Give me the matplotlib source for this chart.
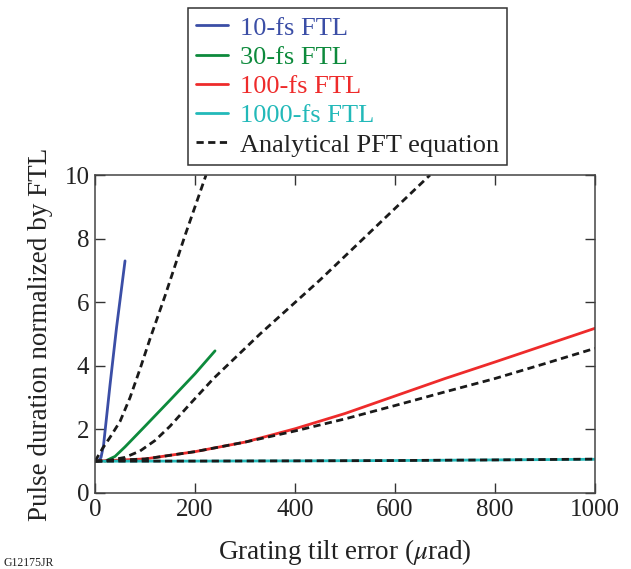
import matplotlib
matplotlib.use("Agg")
import matplotlib.pyplot as plt

plt.rcParams['font.family'] = ['Liberation Serif', 'DejaVu Serif']
plt.rcParams['mathtext.fontset'] = 'stix'

# pulse duration / FTL vs grating tilt error (urad)
x_10 = [7, 12, 17, 30, 43, 60]
y_10 = [1.0, 1.12, 1.5, 3.4, 5.2, 7.3]

x_30 = [20, 40, 60, 100, 150, 200, 240]
y_30 = [1.0, 1.15, 1.45, 2.1, 2.92, 3.75, 4.47]

x_100 = [0, 100, 200, 300, 400, 500, 600, 700, 800, 900, 1000]
y_100 = [1.0, 1.07, 1.3, 1.6, 2.02, 2.5, 3.05, 3.6, 4.12, 4.65, 5.18]

x_1000 = [0, 200, 400, 600, 800, 1000]
y_1000 = [1.0, 1.003, 1.01, 1.02, 1.04, 1.06]

# analytical PFT curves
xa_10 = [0, 15, 30, 50, 70, 90, 110, 140, 180, 222]
ya_10 = [1.0, 1.4, 1.75, 2.25, 3.0, 3.9, 4.85, 6.2, 8.1, 10.0]

xa_30 = [0, 30, 60, 90, 120, 150, 190, 237, 330, 450, 560, 670]
ya_30 = [1.0, 1.03, 1.12, 1.32, 1.65, 2.1, 2.8, 3.6, 5.0, 6.7, 8.35, 10.0]

xa_100 = [0, 100, 200, 300, 400, 500, 600, 700, 800, 900, 1000]
ya_100 = [1.0, 1.07, 1.3, 1.6, 1.95, 2.33, 2.75, 3.18, 3.6, 4.07, 4.55]

xa_1000 = [0, 200, 400, 600, 800, 1000]
ya_1000 = [1.0, 1.003, 1.01, 1.02, 1.04, 1.065]

labels = ['10-fs FTL', '30-fs FTL', '100-fs FTL', '1000-fs FTL']
colors = ['#3b4ea6', '#0d8a3c', '#ee2b2b', '#22b9b9']

fig = plt.figure(figsize=(6.31, 5.69), dpi=100)
ax = fig.add_axes([0.1506, 0.1336, 0.7924, 0.5588])

lw = 2.0
dash = (0, (2.6, 1.6))
for xs, ys, c, lab in zip([x_10, x_30, x_100, x_1000], [y_10, y_30, y_100, y_1000], colors, labels):
    ax.plot(xs, ys, color=c, lw=lw, label=lab, solid_capstyle='round')
first = True
for xs, ys in zip([xa_10, xa_30, xa_100, xa_1000], [ya_10, ya_30, ya_100, ya_1000]):
    ax.plot(xs, ys, color='#1a1a1a', lw=lw, linestyle=dash,
            label='Analytical PFT equation' if first else None)
    first = False

ax.set_xlim(0, 1000)
ax.set_ylim(0, 10)
ax.set_xticks([0, 200, 400, 600, 800, 1000])
ax.set_yticks([0, 2, 4, 6, 8, 10])
ax.tick_params(direction='in', top=True, right=True, length=7, width=1,
               labelsize=18, pad=4, colors='#333333', labelcolor='#222222')
for s in ax.spines.values():
    s.set_linewidth(1.1)
    s.set_color('#444444')

ax.set_xlabel(r'Grating tilt error ($\mathit{\mu}$rad)', fontsize=19.5, color='#222222', labelpad=12)
ax.set_ylabel('Pulse duration normalized by FTL', fontsize=19.5, color='#222222', labelpad=8)

leg = fig.legend(loc='upper center', bbox_to_anchor=(0.551, 0.995), fontsize=19,
                 handlelength=1.2, handletextpad=0.45, labelspacing=0.22,
                 borderpad=0.3, borderaxespad=0.2, fancybox=False,
                 edgecolor='#333333', framealpha=1)
leg.get_frame().set_linewidth(1.1)
for t, c in zip(leg.get_texts(), colors + ['#222222']):
    t.set_color(c)

fig.text(0.006, 0.006, 'G12175JR', fontsize=8.5, color='#222222')

fig.savefig('out.png', dpi=100)
